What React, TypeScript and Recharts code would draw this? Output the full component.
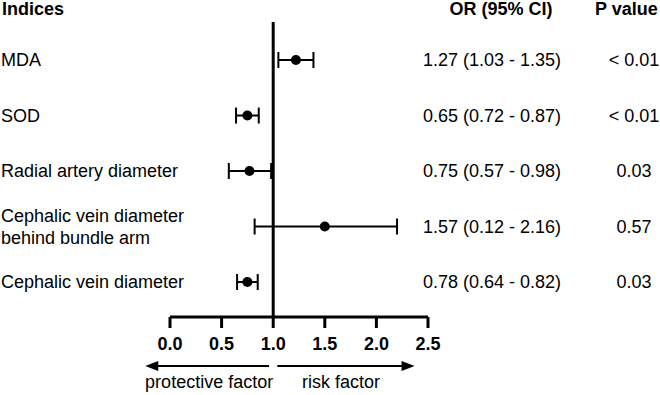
import { ScatterChart, Scatter, XAxis, YAxis, ErrorBar, ReferenceLine, Label } from 'recharts';

const indices = [
  'MDA',
  'SOD',
  'Radial artery diameter',
  'Cephalic vein diameter\nbehind bundle arm',
  'Cephalic vein diameter',
];
const orPoints = [1.22, 0.75, 0.77, 1.5, 0.75];
const ciLow = [1.05, 0.64, 0.57, 0.82, 0.65];
const ciHigh = [1.39, 0.86, 0.98, 2.2, 0.85];
const orLabels = [
  '1.27 (1.03 - 1.35)',
  '0.65 (0.72 - 0.87)',
  '0.75 (0.57 - 0.98)',
  '1.57 (0.12 - 2.16)',
  '0.78 (0.64 - 0.82)',
];
const pValues = ['< 0.01', '< 0.01', '0.03', '0.57', '0.03'];
const xTicks = [0, 0.5, 1, 1.5, 2, 2.5];
const rowTicks = [0, 1, 2, 3, 4];

const data = orPoints.map((or, i) => ({
  x: or,
  y: i,
  errX: [or - ciLow[i], ciHigh[i] - or],
}));

const FONT = '"Liberation Sans", Arial, sans-serif';
const X_MAX = 2.5;

const LeftTick = ({ y, payload }: any) => {
  const lines = indices[payload.value].split('\n');
  const start = -((lines.length - 1) * 22) / 2;
  return (
    <g>
      {lines.map((line, k) => (
        <text key={k} x={1} y={y + start + k * 22} dy="0.35em" textAnchor="start" fontSize={18} fill="#000">
          {line}
        </text>
      ))}
    </g>
  );
};

const RightTick = ({ y, payload }: any) => (
  <g>
    <text x={492} y={y} dy="0.35em" textAnchor="middle" fontSize={18} fill="#000">
      {orLabels[payload.value]}
    </text>
    <text x={634} y={y} dy="0.35em" textAnchor="middle" fontSize={18} fill="#000">
      {pValues[payload.value]}
    </text>
  </g>
);

const Headers = ({ viewBox }: any) => {
  const y = viewBox.y - 13;
  return (
    <g fontWeight="bold" fontSize={18} fill="#000">
      <text x={2} y={y} dy="0.35em" textAnchor="start">Indices</text>
      <text x={501} y={y} dy="0.35em" textAnchor="middle">OR (95% CI)</text>
      <text x={595} y={y} dy="0.35em" textAnchor="start">P value</text>
    </g>
  );
};

const Arrows = ({ viewBox }: any) => {
  const sx = (v: number) => viewBox.x + (v / X_MAX) * viewBox.width;
  const ay = viewBox.y + 49;
  const ty = viewBox.y + 65;
  const l0 = sx(0.96);
  const l1 = sx(-0.24);
  const r0 = sx(1.04);
  const r1 = sx(2.37);
  return (
    <g>
      <line x1={l0} y1={ay} x2={l1 + 12} y2={ay} stroke="#000" strokeWidth={2} />
      <polygon points={`${l1},${ay} ${l1 + 13},${ay - 5} ${l1 + 13},${ay + 5}`} fill="#000" />
      <line x1={r0} y1={ay} x2={r1 - 12} y2={ay} stroke="#000" strokeWidth={2} />
      <polygon points={`${r1},${ay} ${r1 - 13},${ay - 5} ${r1 - 13},${ay + 5}`} fill="#000" />
      <text x={(l0 + l1) / 2 + 2} y={ty} dy="0.35em" textAnchor="middle" fontSize={18} fill="#000">
        protective factor
      </text>
      <text x={(r0 + r1) / 2 - 5} y={ty} dy="0.35em" textAnchor="middle" fontSize={18} fill="#000">
        risk factor
      </text>
    </g>
  );
};

const Dot = (props: any) => <circle cx={props.cx} cy={props.cy} r={5} fill="#000" />;

export default function App() {
  return (
    <div style={{ position: 'absolute', left: 0, top: 0, background: '#fff' }}>
      <ScatterChart
        width={660}
        height={395}
        margin={{ top: 22, right: 0, bottom: 48, left: 0 }}
        style={{ fontFamily: FONT }}
      >
        <XAxis
          type="number"
          dataKey="x"
          domain={[0, X_MAX]}
          ticks={xTicks}
          allowDataOverflow
          height={30}
          tickFormatter={(v: number) => v.toFixed(1)}
          axisLine={{ stroke: '#000', strokeWidth: 3 }}
          tickLine={{ stroke: '#000', strokeWidth: 3 }}
          tickSize={11}
          tickMargin={9}
          tick={{ fontSize: 18, fontWeight: 'bold', fill: '#000' }}
        >
          <Label content={Arrows} />
        </XAxis>
        <YAxis
          yAxisId="left"
          type="number"
          dataKey="y"
          domain={[-0.685, 4.63]}
          ticks={rowTicks}
          reversed
          allowDataOverflow
          width={170}
          axisLine={false}
          tickLine={false}
          tick={<LeftTick />}
        >
          <Label content={Headers} />
        </YAxis>
        <YAxis
          yAxisId="right"
          orientation="right"
          type="number"
          dataKey="y"
          domain={[-0.685, 4.63]}
          ticks={rowTicks}
          reversed
          allowDataOverflow
          width={232}
          axisLine={false}
          tickLine={false}
          tick={<RightTick />}
        />
        <ReferenceLine yAxisId="left" x={1} stroke="#000" strokeWidth={3} />
        <Scatter yAxisId="left" data={data} shape={Dot} isAnimationActive={false}>
          <ErrorBar dataKey="errX" direction="x" width={8} stroke="#000" strokeWidth={2} />
        </Scatter>
      </ScatterChart>
    </div>
  );
}
